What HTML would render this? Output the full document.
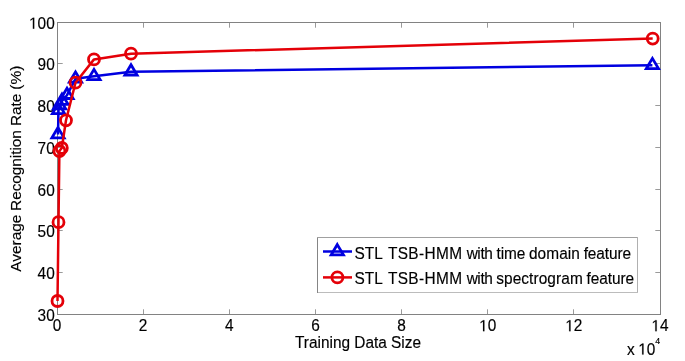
<!DOCTYPE html>
<html><head><meta charset="utf-8"><style>
html,body{margin:0;padding:0;background:#fff;}
svg{display:block;will-change:transform;}
.t text{font-family:"Liberation Sans",sans-serif;font-size:15.4px;fill:#000;stroke:#000;stroke-width:0.15px;}
.t path{fill:#000;stroke:#000;stroke-width:20px;}
</style></head><body>
<svg width="685" height="361" viewBox="0 0 685 361">
<rect width="685" height="361" fill="#fff"/>
<path d="M57.5,314.5v-5.2M57.5,22.5v5.2M143.5,314.5v-5.2M143.5,22.5v5.2M229.5,314.5v-5.2M229.5,22.5v5.2M315.5,314.5v-5.2M315.5,22.5v5.2M401.5,314.5v-5.2M401.5,22.5v5.2M487.5,314.5v-5.2M487.5,22.5v5.2M573.5,314.5v-5.2M573.5,22.5v5.2M660.5,314.5v-5.2M660.5,22.5v5.2M57.5,314.5h5.2M660.5,314.5h-5.2M57.5,272.5h5.2M660.5,272.5h-5.2M57.5,230.5h5.2M660.5,230.5h-5.2M57.5,189.5h5.2M660.5,189.5h-5.2M57.5,147.5h5.2M660.5,147.5h-5.2M57.5,105.5h5.2M660.5,105.5h-5.2M57.5,63.5h5.2M660.5,63.5h-5.2M57.5,22.5h5.2M660.5,22.5h-5.2" stroke="#9a9a9a" stroke-width="1" fill="none"/>
<rect x="57.5" y="22.5" width="603.0" height="292.0" fill="none" stroke="#828282" stroke-width="1"/>
<g class="t"><text x="52.72" y="331.20" transform="matrix(1,0,0,1.04,0,-13.248)">0</text><text x="138.86" y="331.20" transform="matrix(1,0,0,1.04,0,-13.248)">2</text><text x="225.00" y="331.20" transform="matrix(1,0,0,1.04,0,-13.248)">4</text><text x="311.15" y="331.20" transform="matrix(1,0,0,1.04,0,-13.248)">6</text><text x="397.29" y="331.20" transform="matrix(1,0,0,1.04,0,-13.248)">8</text><path d="M515 0H696V1409H530L197 1180V1010L515 1237Z" transform="translate(479.15,331.20) scale(0.007520,-0.007820)"/><text x="487.71" y="331.20" transform="matrix(1,0,0,1.04,0,-13.248)">0</text><path d="M515 0H696V1409H530L197 1180V1010L515 1237Z" transform="translate(565.29,331.20) scale(0.007520,-0.007820)"/><text x="573.86" y="331.20" transform="matrix(1,0,0,1.04,0,-13.248)">2</text><path d="M515 0H696V1409H530L197 1180V1010L515 1237Z" transform="translate(651.44,331.20) scale(0.007520,-0.007820)"/><text x="660.00" y="331.20" transform="matrix(1,0,0,1.04,0,-13.248)">4</text><text x="37.57" y="320.95" transform="matrix(1,0,0,1.04,0,-12.838)">3</text><text x="46.14" y="320.95" transform="matrix(1,0,0,1.04,0,-12.838)">0</text><text x="37.57" y="278.65" transform="matrix(1,0,0,1.04,0,-11.146)">4</text><text x="46.14" y="278.65" transform="matrix(1,0,0,1.04,0,-11.146)">0</text><text x="37.57" y="236.65" transform="matrix(1,0,0,1.04,0,-9.466)">5</text><text x="46.14" y="236.65" transform="matrix(1,0,0,1.04,0,-9.466)">0</text><text x="37.57" y="195.65" transform="matrix(1,0,0,1.04,0,-7.826)">6</text><text x="46.14" y="195.65" transform="matrix(1,0,0,1.04,0,-7.826)">0</text><text x="37.57" y="153.65" transform="matrix(1,0,0,1.04,0,-6.146)">7</text><text x="46.14" y="153.65" transform="matrix(1,0,0,1.04,0,-6.146)">0</text><text x="37.57" y="111.65" transform="matrix(1,0,0,1.04,0,-4.466)">8</text><text x="46.14" y="111.65" transform="matrix(1,0,0,1.04,0,-4.466)">0</text><text x="37.57" y="69.65" transform="matrix(1,0,0,1.04,0,-2.786)">9</text><text x="46.14" y="69.65" transform="matrix(1,0,0,1.04,0,-2.786)">0</text><path d="M515 0H696V1409H530L197 1180V1010L515 1237Z" transform="translate(29.01,28.65) scale(0.007520,-0.007820)"/><text x="37.57" y="28.65" transform="matrix(1,0,0,1.04,0,-1.146)">0</text><text x="46.14" y="28.65" transform="matrix(1,0,0,1.04,0,-1.146)">0</text></g>
<g class="t" text-anchor="middle"><text x="358.00" y="347.60" transform="matrix(1,0,0,1.04,0,-13.904)">Training Data Size</text></g>
<g class="t" transform="translate(20.8,0) rotate(-90)"><text y="0"><tspan x="-271.63" letter-spacing="0.0">Average</tspan><tspan x="-210.93" letter-spacing="-0.05">Recognition</tspan><tspan x="-125.93" letter-spacing="-0.1">Rate</tspan><tspan x="-89.65" letter-spacing="0.1">(%)</tspan></text></g>
<g class="t"><text x="627.00" y="354.60" transform="matrix(1,0,0,1.04,0,-14.184)">x</text><path d="M515 0H696V1409H530L197 1180V1010L515 1237Z" transform="translate(638.28,354.60) scale(0.007520,-0.007820)"/><text x="646.84" y="354.60" transform="matrix(1,0,0,1.04,0,-14.184)">0</text><text x="655.20" y="344.30" transform="matrix(1,0,0,1.04,0,-13.772)" style="font-size:8.8px">4</text></g>
<polyline points="58.0,134.5 58.5,110.3 59.6,105.5 62.0,101.0 67.0,95.2 75.5,78.8 94.0,76.3 131.0,71.7 652.4,65.3" fill="none" stroke="#0000e0" stroke-width="2.5" stroke-linejoin="round"/>
<path d="M58.00,127.60L64.10,137.80L51.90,137.80ZM58.50,103.40L64.60,113.60L52.40,113.60ZM59.60,98.60L65.70,108.80L53.50,108.80ZM62.00,94.10L68.10,104.30L55.90,104.30ZM67.00,88.30L73.10,98.50L60.90,98.50ZM75.50,71.90L81.60,82.10L69.40,82.10ZM94.00,69.40L100.10,79.60L87.90,79.60ZM131.00,64.80L137.10,75.00L124.90,75.00ZM652.40,58.40L658.50,68.60L646.30,68.60Z" fill="none" stroke="#0000e0" stroke-width="2.8" stroke-linejoin="miter"/>
<polyline points="57.5,301.0 58.5,222.2 59.4,151.0 61.8,148.0 66.0,120.3 75.5,82.7 94.0,59.4 131.0,53.7 652.7,38.6" fill="none" stroke="#e40008" stroke-width="2.5" stroke-linejoin="round"/>
<g fill="none" stroke="#e40008" stroke-width="2.8"><circle cx="57.5" cy="301.0" r="5.5"/><circle cx="58.5" cy="222.2" r="5.5"/><circle cx="59.4" cy="151.0" r="5.5"/><circle cx="61.8" cy="148.0" r="5.5"/><circle cx="66.0" cy="120.3" r="5.5"/><circle cx="75.5" cy="82.7" r="5.5"/><circle cx="94.0" cy="59.4" r="5.5"/><circle cx="131.0" cy="53.7" r="5.5"/><circle cx="652.7" cy="38.6" r="5.5"/></g>
<rect x="317.5" y="237.5" width="320" height="55" fill="#fff"/>
<path d="M317.5,237V293" stroke="#858585"/><path d="M317,237.5H638" stroke="#a0a0a0"/><path d="M637.5,237V293" stroke="#b0b0b0"/><path d="M318,292.5H638" stroke="#bcbcbc"/>
<path d="M323,251.5H352" stroke="#0000e0" stroke-width="2.5"/>
<path d="M337.30,244.60L343.40,254.80L331.20,254.80Z" fill="none" stroke="#0000e0" stroke-width="2.8"/>
<path d="M323,277.4H352" stroke="#e40008" stroke-width="2.5"/>
<circle cx="337.4" cy="277.4" r="5.5" fill="none" stroke="#e40008" stroke-width="2.8"/>
<g class="t"><text y="258.60" transform="matrix(1,0,0,1.04,0,-10.344)"><tspan x="354.41" letter-spacing="0.1">STL</tspan><tspan x="387.96" letter-spacing="0.38">TSB-HMM</tspan><tspan x="466.66" letter-spacing="-0.4">with</tspan><tspan x="496.48" letter-spacing="-0.1">time</tspan><tspan x="528.95" letter-spacing="0.1">domain</tspan><tspan x="583.66" letter-spacing="-0.08">feature</tspan></text><text y="284.40" transform="matrix(1,0,0,1.04,0,-11.376)"><tspan x="354.41" letter-spacing="0.1">STL</tspan><tspan x="387.96" letter-spacing="0.38">TSB-HMM</tspan><tspan x="466.66" letter-spacing="-0.4">with</tspan><tspan x="496.20" letter-spacing="0.1">spectrogram</tspan><tspan x="586.56" letter-spacing="-0.08">feature</tspan></text></g>
</svg>
</body></html>
